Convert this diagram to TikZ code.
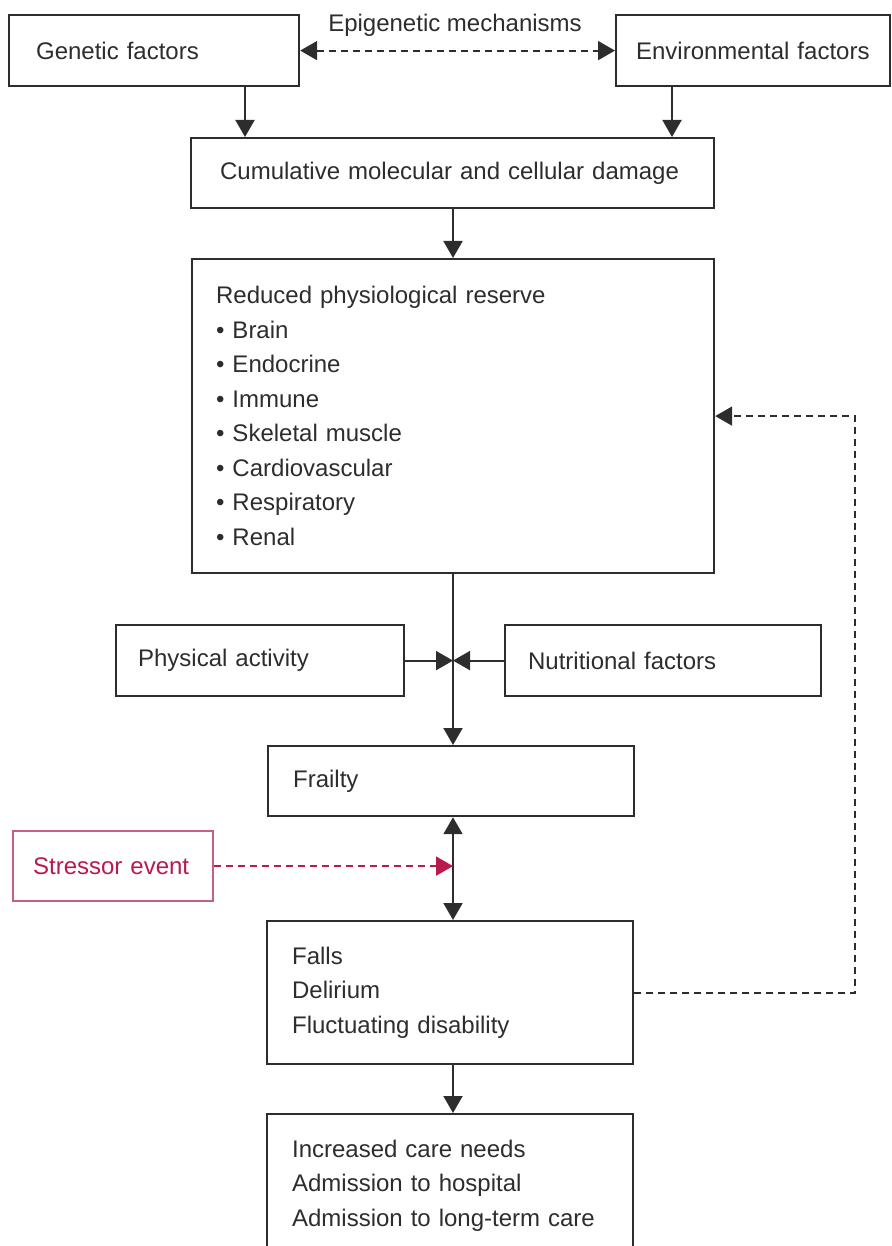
\documentclass[tikz,border=0pt]{standalone}
\usepackage{fontspec}
\setmainfont{Liberation Sans}
\usetikzlibrary{arrows.meta}

\definecolor{linegray}{RGB}{45,45,45}
\definecolor{textgray}{RGB}{45,45,45}
\definecolor{stressred}{RGB}{185,25,75}
\definecolor{stressbox}{RGB}{200,95,130}

\tikzset{
  >={Triangle[length=17pt,width=19pt]},
  box/.style={draw=linegray, line width=2.2pt, text=textgray, align=left,
    anchor=north west, inner ysep=0pt},
  arr/.style={draw=linegray, line width=2pt, ->},
  dashline/.style={line width=2pt, dash pattern=on 7pt off 5pt},
}

\begin{document}
\begin{tikzpicture}[x=1pt, y=-1pt, font=\fontsize{24}{34.5}\selectfont]
	\useasboundingbox (0,0) rectangle (891,1246);

	% top row
	\node[box, text width=236pt, inner xsep=27pt, minimum height=71pt] (gen) at (8,14) {Genetic factors};
	\node[box, text width=234pt, inner xsep=20pt, minimum height=71pt] (env) at (615,14) {Environmental factors};
	\node[text=textgray] (epi) at (455,25) {Epigenetic mechanisms};

	\node[box, text width=465pt, inner xsep=29pt, minimum height=70pt] (cum) at (190,137) {Cumulative molecular and cellular damage};
	\node[box, text width=474pt, inner xsep=24pt, minimum height=314pt] (red) at (191,258)
		{Reduced physiological reserve\\
		 \textbullet\ Brain\\
		 \textbullet\ Endocrine\\
		 \textbullet\ Immune\\
		 \textbullet\ Skeletal muscle\\
		 \textbullet\ Cardiovascular\\
		 \textbullet\ Respiratory\\
		 \textbullet\ Renal};

	% modifiers
	\node[box, text width=244pt, inner xsep=22pt, minimum height=71pt] (phys) at (115,624) {Physical activity};
	\node[box, text width=270pt, inner xsep=23pt, minimum height=71pt] (nutr) at (504,624) {Nutritional factors};

	\node[box, text width=316pt, inner xsep=25pt, minimum height=70pt] (frail) at (267,745) {Frailty};
	\node[box, draw=stressbox, text=stressred, text width=160pt, inner xsep=20pt, minimum height=70pt] (stress) at (12,830) {Stressor event};
	\node[box, text width=316pt, inner xsep=25pt, minimum height=143pt] (falls) at (266,920) {Falls\\Delirium\\Fluctuating disability};
	\node[box, text width=316pt, inner xsep=25pt, minimum height=143pt] (care) at (266,1113) {Increased care needs\\Admission to hospital\\Admission to long-term care};

	\coordinate (ax) at (453,0);
	\coordinate (gx) at (245,0);
	\coordinate (ex) at (672,0);

	\draw[arr, dashline, <->] (gen.east) -- (env.west);
	\draw[arr] (gen.south -| gx) -- (cum.north -| gx);
	\draw[arr] (env.south -| ex) -- (cum.north -| ex);
	\draw[arr] (cum.south -| ax) -- (red.north -| ax);
	\draw[arr] (red.south -| ax) -- (frail.north -| ax);
	\draw[arr] (phys.east) -- (phys.east -| ax);
	\draw[arr] (nutr.west) -- (nutr.west -| ax);
	\draw[arr, <->] (frail.south -| ax) -- (falls.north -| ax);
	\draw[arr] (falls.south -| ax) -- (care.north -| ax);
	\draw[dashline, draw=stressred, ->] (stress.east) -- (stress.east -| ax);
	\draw[arr, dashline] (falls.east) -| ([xshift=140pt]red.east) -- (red.east);
\end{tikzpicture}
\end{document}
